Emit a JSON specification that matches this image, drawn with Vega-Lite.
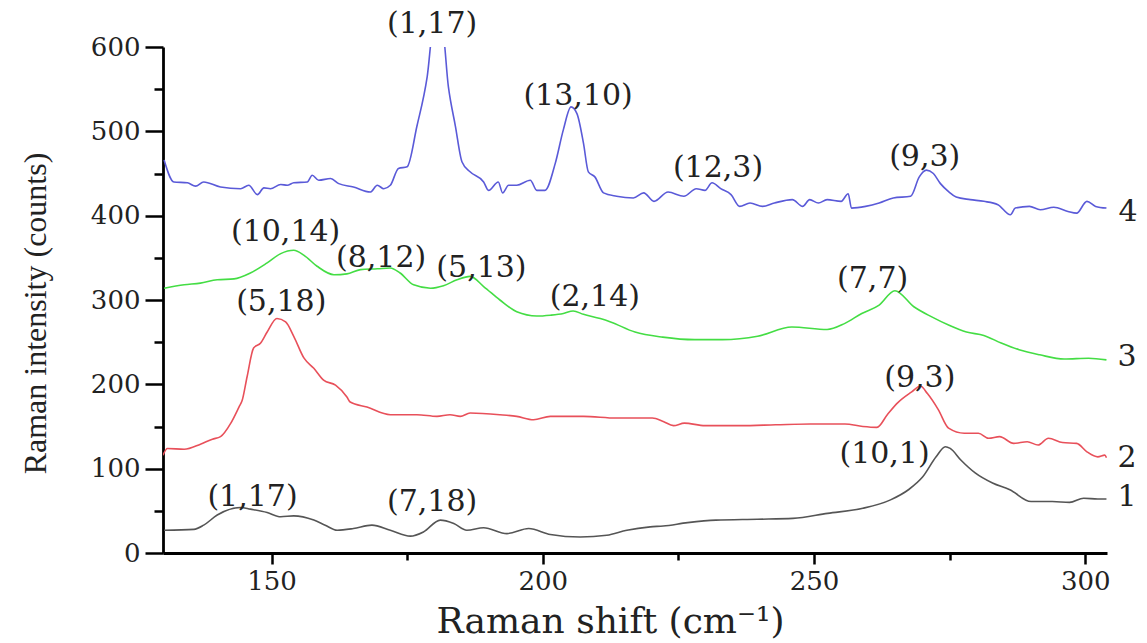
{
  "$schema": "https://vega.github.io/schema/vega-lite/v6.json",
  "width": 944,
  "height": 506,
  "autosize": {"type": "none"},
  "padding": {"left": 163, "top": 47, "right": 40, "bottom": 90},
  "background": "white",
  "config": {
    "view": {"stroke": null},
    "axis": {"grid": false, "domain": true, "domainColor": "black", "domainWidth": 2.8, "tickColor": "black", "tickWidth": 2.5}
  },
  "datasets": {
    "spectra": [
      {"c":"4","x":130.2,"y":466},{"c":"4","x":132.0,"y":440},{"c":"4","x":134.5,"y":439},{"c":"4","x":136.0,"y":435},{"c":"4","x":137.5,"y":440},{"c":"4","x":140.6,"y":434},{"c":"4","x":144.3,"y":432},{"c":"4","x":145.8,"y":436},{"c":"4","x":147.4,"y":425},{"c":"4","x":148.6,"y":433},{"c":"4","x":149.8,"y":432},{"c":"4","x":151.7,"y":437},{"c":"4","x":152.9,"y":436},{"c":"4","x":154.1,"y":439},{"c":"4","x":156.6,"y":440},{"c":"4","x":157.5,"y":448},{"c":"4","x":158.7,"y":442},{"c":"4","x":160.9,"y":444},{"c":"4","x":162.4,"y":438},{"c":"4","x":165.1,"y":434},{"c":"4","x":168.2,"y":428},{"c":"4","x":169.5,"y":436},{"c":"4","x":170.7,"y":432},{"c":"4","x":171.9,"y":436},{"c":"4","x":173.4,"y":456},{"c":"4","x":175.0,"y":458},{"c":"4","x":176.8,"y":506},{"c":"4","x":178.7,"y":565},{"c":"4","x":179.9,"y":625},{"c":"4","x":181.4,"y":625},{"c":"4","x":182.6,"y":553},{"c":"4","x":183.9,"y":506},{"c":"4","x":185.1,"y":464},{"c":"4","x":186.6,"y":452},{"c":"4","x":189.1,"y":440},{"c":"4","x":190.0,"y":430},{"c":"4","x":191.8,"y":440},{"c":"4","x":192.6,"y":427},{"c":"4","x":193.7,"y":436},{"c":"4","x":195.2,"y":436},{"c":"4","x":197.7,"y":442},{"c":"4","x":198.9,"y":430},{"c":"4","x":200.4,"y":430},{"c":"4","x":202.3,"y":462},{"c":"4","x":203.8,"y":502},{"c":"4","x":205.2,"y":529},{"c":"4","x":206.3,"y":521},{"c":"4","x":207.5,"y":486},{"c":"4","x":208.4,"y":452},{"c":"4","x":209.6,"y":446},{"c":"4","x":211.2,"y":427},{"c":"4","x":213.6,"y":423},{"c":"4","x":216.7,"y":421},{"c":"4","x":218.6,"y":427},{"c":"4","x":220.5,"y":417},{"c":"4","x":223.1,"y":428},{"c":"4","x":226.0,"y":423},{"c":"4","x":228.3,"y":432},{"c":"4","x":229.9,"y":430},{"c":"4","x":231.2,"y":439},{"c":"4","x":232.8,"y":432},{"c":"4","x":234.7,"y":425},{"c":"4","x":236.3,"y":411},{"c":"4","x":238.2,"y":415},{"c":"4","x":240.5,"y":411},{"c":"4","x":242.7,"y":415},{"c":"4","x":246.0,"y":419},{"c":"4","x":247.9,"y":411},{"c":"4","x":249.2,"y":419},{"c":"4","x":250.8,"y":415},{"c":"4","x":252.4,"y":419},{"c":"4","x":255.0,"y":417},{"c":"4","x":256.3,"y":426},{"c":"4","x":256.9,"y":409},{"c":"4","x":259.5,"y":411},{"c":"4","x":262.0,"y":415},{"c":"4","x":264.6,"y":421},{"c":"4","x":267.8,"y":423},{"c":"4","x":269.4,"y":446},{"c":"4","x":270.7,"y":454},{"c":"4","x":272.0,"y":450},{"c":"4","x":273.3,"y":438},{"c":"4","x":274.9,"y":428},{"c":"4","x":276.2,"y":422},{"c":"4","x":278.8,"y":419},{"c":"4","x":281.3,"y":417},{"c":"4","x":283.9,"y":413},{"c":"4","x":286.2,"y":401},{"c":"4","x":287.1,"y":409},{"c":"4","x":289.7,"y":411},{"c":"4","x":291.7,"y":407},{"c":"4","x":294.2,"y":410},{"c":"4","x":296.8,"y":405},{"c":"4","x":298.4,"y":403},{"c":"4","x":300.3,"y":417},{"c":"4","x":301.9,"y":411},{"c":"4","x":303.9,"y":409},
      {"c":"3","x":130.2,"y":314},{"c":"3","x":133.9,"y":318},{"c":"3","x":136.9,"y":320},{"c":"3","x":140.0,"y":324},{"c":"3","x":143.1,"y":325},{"c":"3","x":146.1,"y":332},{"c":"3","x":149.2,"y":344},{"c":"3","x":151.7,"y":355},{"c":"3","x":154.1,"y":359},{"c":"3","x":156.0,"y":353},{"c":"3","x":158.4,"y":340},{"c":"3","x":161.5,"y":330},{"c":"3","x":163.9,"y":331},{"c":"3","x":166.4,"y":336},{"c":"3","x":169.5,"y":337},{"c":"3","x":171.9,"y":338},{"c":"3","x":173.7,"y":332},{"c":"3","x":176.2,"y":318},{"c":"3","x":179.3,"y":314},{"c":"3","x":181.7,"y":317},{"c":"3","x":184.2,"y":324},{"c":"3","x":186.6,"y":328},{"c":"3","x":189.1,"y":316},{"c":"3","x":192.1,"y":300},{"c":"3","x":195.2,"y":286},{"c":"3","x":198.9,"y":281},{"c":"3","x":201.4,"y":282},{"c":"3","x":203.8,"y":284},{"c":"3","x":205.6,"y":287},{"c":"3","x":207.5,"y":283},{"c":"3","x":210.6,"y":278},{"c":"3","x":212.5,"y":274},{"c":"3","x":217.0,"y":262},{"c":"3","x":222.1,"y":256},{"c":"3","x":228.0,"y":253},{"c":"3","x":233.1,"y":253},{"c":"3","x":239.6,"y":257},{"c":"3","x":245.9,"y":268},{"c":"3","x":252.4,"y":265},{"c":"3","x":255.6,"y":272},{"c":"3","x":258.8,"y":284},{"c":"3","x":262.0,"y":294},{"c":"3","x":264.9,"y":311},{"c":"3","x":268.4,"y":292},{"c":"3","x":271.7,"y":280},{"c":"3","x":274.9,"y":270},{"c":"3","x":278.1,"y":262},{"c":"3","x":281.3,"y":258},{"c":"3","x":284.5,"y":249},{"c":"3","x":287.8,"y":241},{"c":"3","x":291.6,"y":235},{"c":"3","x":296.1,"y":230},{"c":"3","x":300.6,"y":231},{"c":"3","x":303.9,"y":229},
      {"c":"2","x":130.0,"y":116},{"c":"2","x":130.8,"y":124},{"c":"2","x":133.9,"y":123},{"c":"2","x":136.9,"y":129},{"c":"2","x":139.1,"y":135},{"c":"2","x":140.6,"y":138},{"c":"2","x":142.5,"y":154},{"c":"2","x":144.0,"y":173},{"c":"2","x":144.6,"y":181},{"c":"2","x":145.5,"y":209},{"c":"2","x":146.7,"y":243},{"c":"2","x":148.0,"y":249},{"c":"2","x":149.2,"y":262},{"c":"2","x":151.0,"y":278},{"c":"2","x":152.6,"y":274},{"c":"2","x":154.1,"y":257},{"c":"2","x":156.0,"y":231},{"c":"2","x":157.8,"y":219},{"c":"2","x":159.6,"y":205},{"c":"2","x":161.8,"y":199},{"c":"2","x":163.9,"y":185},{"c":"2","x":164.5,"y":179},{"c":"2","x":167.6,"y":173},{"c":"2","x":171.9,"y":164},{"c":"2","x":176.8,"y":164},{"c":"2","x":180.5,"y":162},{"c":"2","x":182.9,"y":164},{"c":"2","x":184.8,"y":162},{"c":"2","x":186.6,"y":166},{"c":"2","x":192.1,"y":164},{"c":"2","x":195.2,"y":162},{"c":"2","x":198.3,"y":158},{"c":"2","x":201.4,"y":162},{"c":"2","x":207.5,"y":162},{"c":"2","x":213.6,"y":160},{"c":"2","x":220.2,"y":160},{"c":"2","x":222.2,"y":156},{"c":"2","x":224.1,"y":151},{"c":"2","x":226.1,"y":154},{"c":"2","x":229.9,"y":151},{"c":"2","x":236.4,"y":151},{"c":"2","x":242.9,"y":152},{"c":"2","x":249.3,"y":153},{"c":"2","x":255.7,"y":153},{"c":"2","x":259.0,"y":150},{"c":"2","x":261.6,"y":149},{"c":"2","x":263.5,"y":164},{"c":"2","x":265.4,"y":178},{"c":"2","x":268.0,"y":191},{"c":"2","x":269.6,"y":198},{"c":"2","x":270.9,"y":189},{"c":"2","x":272.9,"y":170},{"c":"2","x":274.8,"y":148},{"c":"2","x":277.7,"y":142},{"c":"2","x":280.3,"y":142},{"c":"2","x":282.2,"y":136},{"c":"2","x":284.2,"y":138},{"c":"2","x":286.8,"y":130},{"c":"2","x":289.3,"y":132},{"c":"2","x":291.3,"y":128},{"c":"2","x":293.2,"y":136},{"c":"2","x":295.8,"y":131},{"c":"2","x":298.4,"y":130},{"c":"2","x":300.3,"y":120},{"c":"2","x":302.3,"y":114},{"c":"2","x":303.6,"y":116},{"c":"2","x":303.9,"y":113},
      {"c":"1","x":130.2,"y":27},{"c":"1","x":135.7,"y":28},{"c":"1","x":137.5,"y":33},{"c":"1","x":140.0,"y":45},{"c":"1","x":144.3,"y":54},{"c":"1","x":146.1,"y":52},{"c":"1","x":149.2,"y":48},{"c":"1","x":151.7,"y":43},{"c":"1","x":154.1,"y":44},{"c":"1","x":157.8,"y":39},{"c":"1","x":159.9,"y":33},{"c":"1","x":162.1,"y":27},{"c":"1","x":165.1,"y":29},{"c":"1","x":168.5,"y":33},{"c":"1","x":171.9,"y":27},{"c":"1","x":175.6,"y":20},{"c":"1","x":178.0,"y":25},{"c":"1","x":181.1,"y":39},{"c":"1","x":183.6,"y":35},{"c":"1","x":186.0,"y":27},{"c":"1","x":189.1,"y":30},{"c":"1","x":193.4,"y":23},{"c":"1","x":197.4,"y":29},{"c":"1","x":201.4,"y":22},{"c":"1","x":206.9,"y":19},{"c":"1","x":211.8,"y":21},{"c":"1","x":215.5,"y":27},{"c":"1","x":219.8,"y":31},{"c":"1","x":222.2,"y":32},{"c":"1","x":226.7,"y":36},{"c":"1","x":231.9,"y":39},{"c":"1","x":239.6,"y":40},{"c":"1","x":246.1,"y":41},{"c":"1","x":252.5,"y":47},{"c":"1","x":259.0,"y":53},{"c":"1","x":264.1,"y":63},{"c":"1","x":267.4,"y":75},{"c":"1","x":270.0,"y":90},{"c":"1","x":272.5,"y":114},{"c":"1","x":274.2,"y":126},{"c":"1","x":275.1,"y":124},{"c":"1","x":277.1,"y":110},{"c":"1","x":279.7,"y":95},{"c":"1","x":282.9,"y":83},{"c":"1","x":286.1,"y":75},{"c":"1","x":290.0,"y":61},{"c":"1","x":293.9,"y":61},{"c":"1","x":297.1,"y":60},{"c":"1","x":299.7,"y":65},{"c":"1","x":302.3,"y":64},{"c":"1","x":303.9,"y":64}
    ],
    "peaks": [
      {"label":"(1,17)","x":179.6,"y":627},
      {"label":"(13,10)","x":206.5,"y":542},
      {"label":"(12,3)","x":232.3,"y":456},
      {"label":"(9,3)","x":270.4,"y":470},
      {"label":"(10,14)","x":152.6,"y":381},
      {"label":"(8,12)","x":170.2,"y":350},
      {"label":"(5,13)","x":188.7,"y":338},
      {"label":"(2,14)","x":209.6,"y":304},
      {"label":"(7,7)","x":260.8,"y":325},
      {"label":"(5,18)","x":151.8,"y":298},
      {"label":"(9,3)","x":269.5,"y":208},
      {"label":"(10,1)","x":263.0,"y":117},
      {"label":"(1,17)","x":146.5,"y":66},
      {"label":"(7,18)","x":179.6,"y":60}
    ],
    "names": [
      {"label":"4","x":307.9,"y":404},
      {"label":"3","x":307.7,"y":232},
      {"label":"2","x":307.7,"y":113},
      {"label":"1","x":307.7,"y":66}
    ]
  },
  "layer": [
    {
      "data": {"name": "spectra"},
      "mark": {"type": "line", "strokeWidth": 1.6, "clip": true, "interpolate": "monotone"},
      "encoding": {
        "x": {"field": "x", "type": "quantitative",
          "scale": {"domain": [130, 304], "nice": false, "zero": false},
          "axis": {"orient": "bottom", "values": [150, 175, 200, 225, 250, 275, 300],
            "labelExpr": "datum.value % 50 === 0 ? datum.label : ''",
            "tickSize": {"condition": {"test": "datum.value % 50 !== 0", "value": 7}, "value": 11},
            "labelPadding": 4,
            "domain": true, "domainColor": "black", "domainWidth": 2.8, "tickColor": "black", "tickWidth": 2.5,
            "labelFont": "DejaVu Serif", "labelFontSize": 26, "labelColor": "#222222",
            "title": "Raman shift (cm⁻¹)", "titleFont": "DejaVu Serif", "titleFontSize": 36, "titleFontWeight": "normal", "titleColor": "#222222",
            "titleX": 447, "titleY": 79, "titleBaseline": "alphabetic", "titleAlign": "center"}},
        "y": {"field": "y", "type": "quantitative",
          "scale": {"domain": [0, 600], "nice": false},
          "axis": {"orient": "left", "values": [0, 50, 100, 150, 200, 250, 300, 350, 400, 450, 500, 550, 600],
            "labelExpr": "datum.value % 100 === 0 ? datum.label : ''",
            "tickSize": {"condition": {"test": "datum.value % 100 !== 0", "value": 9}, "value": 18},
            "labelPadding": 5,
            "domain": true, "domainColor": "black", "domainWidth": 2.8, "tickColor": "black", "tickWidth": 2.5,
            "labelFont": "DejaVu Serif", "labelFontSize": 26, "labelColor": "#222222",
            "title": "Raman intensity (counts)", "titleFont": "Liberation Serif", "titleFontSize": 32, "titleFontWeight": "normal", "titleColor": "#222222",
            "titleAngle": -90, "titleX": -128, "titleY": 266, "titleBaseline": "middle", "titleAlign": "center"}},
        "color": {"field": "c", "type": "nominal",
          "scale": {"domain": ["1", "2", "3", "4"], "range": ["#555555", "#e8505a", "#44dd44", "#5a5ad8"]},
          "legend": null}
      }
    },
    {
      "data": {"name": "peaks"},
      "mark": {"type": "text", "font": "DejaVu Serif", "fontSize": 30, "color": "#222222", "baseline": "middle", "align": "center"},
      "encoding": {
        "x": {"field": "x", "type": "quantitative"},
        "y": {"field": "y", "type": "quantitative"},
        "text": {"field": "label"}
      }
    },
    {
      "data": {"name": "names"},
      "mark": {"type": "text", "font": "DejaVu Serif", "fontSize": 30, "color": "#222222", "baseline": "middle", "align": "center"},
      "encoding": {
        "x": {"field": "x", "type": "quantitative"},
        "y": {"field": "y", "type": "quantitative"},
        "text": {"field": "label"}
      }
    }
  ]
}
